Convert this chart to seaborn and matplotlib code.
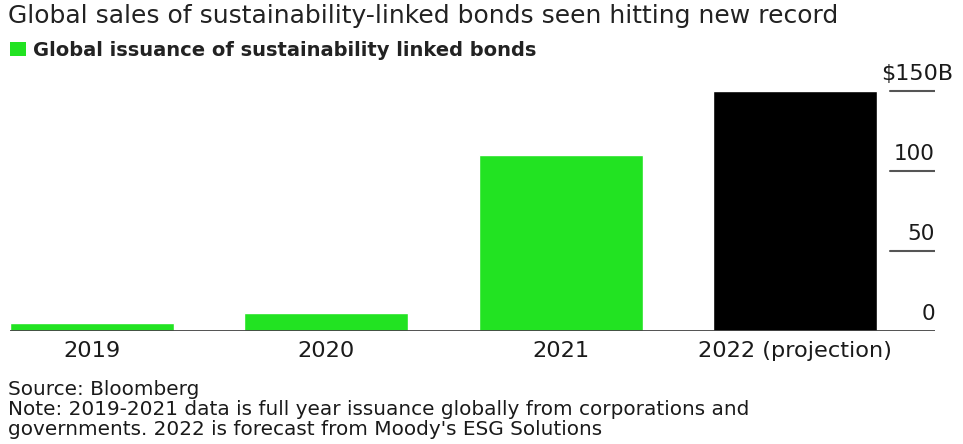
import matplotlib
matplotlib.use("Agg")
import matplotlib.pyplot as plt
import matplotlib.transforms as mtransforms
from matplotlib.patches import Rectangle
import seaborn as sns
import pandas as pd

categories = ["2019", "2020", "2021", "2022 (projection)"]
values = [5, 11, 110, 150]
bar_colors = ["#22e322", "#22e322", "#22e322", "#000000"]
ytick_values = [0, 50, 100, 150]
ytick_labels = ["0", "50", "100", "$150B"]
title = "Global sales of sustainability-linked bonds seen hitting new record"
legend_label = "Global issuance of sustainability linked bonds"
source_lines = [
    "Source: Bloomberg",
    "Note: 2019-2021 data is full year issuance globally from corporations and",
    "governments. 2022 is forecast from Moody's ESG Solutions",
]

sns.set_theme(style="white")
plt.rcParams["font.family"] = ["DejaVu Sans"]

W, H = 963, 444
fig = plt.figure(figsize=(W / 100, H / 100), dpi=100)
fig.patch.set_facecolor("white")

def fx(px):
    return px / W

def fy(py):
    return 1 - py / H

ax = fig.add_axes([fx(10), fy(331), fx(935) - fx(10), fy(75) - fy(331)])
df = pd.DataFrame({"cat": categories, "val": values})
sns.barplot(data=df, x="cat", y="val", hue="cat", palette=bar_colors,
            legend=False, width=0.7, saturation=1, ax=ax, order=categories)

ax.set_xlim(-0.35, -0.35 + 925 / 234.3)
ax.set_ylim(0, 160)
for s in ax.spines.values():
    s.set_visible(False)
ax.set_xlabel("")
ax.set_ylabel("")
ax.set_yticks([])
ax.tick_params(axis="x", length=0, pad=7, labelsize=16.2, labelcolor="#1a1a1a")

# baseline
ax.axhline(0, color="#444444", lw=1.3, zorder=3)

# right-side value labels with short rules
blend = mtransforms.blended_transform_factory(ax.transAxes, ax.transData)
for v, lab in zip(ytick_values, ytick_labels):
    if v != 0:
        ax.axhline(v, xmin=0.951, xmax=1.0, color="#555555", lw=1.5, zorder=3)
    off = mtransforms.offset_copy(blend, fig=fig, x=0, y=11, units="dots")
    if lab.startswith("$"):
        ax.text((881 - 10) / 925, v, lab, transform=off, ha="left", va="baseline",
                fontsize=16, color="#1a1a1a")
    else:
        ax.text(1.0, v, lab, transform=off, ha="right", va="baseline",
                fontsize=15.5, color="#1a1a1a")

# title
fig.text(fx(8), fy(23), title, ha="left", va="baseline", fontsize=18, color="#222222")

# legend
fig.patches.append(Rectangle((fx(10), fy(56)), fx(16), fy(42) - fy(56),
                             transform=fig.transFigure, facecolor=bar_colors[0],
                             edgecolor="none"))
fig.text(fx(33), fy(56), legend_label, ha="left", va="baseline", fontsize=14,
         fontweight="bold", color="#222222")

# source notes
for i, line in enumerate(source_lines):
    fig.text(fx(8), fy(395 + 20 * i), line, ha="left", va="baseline",
             fontsize=14.4, color="#1a1a1a")

fig.savefig("out.png", dpi=100, facecolor="white")
